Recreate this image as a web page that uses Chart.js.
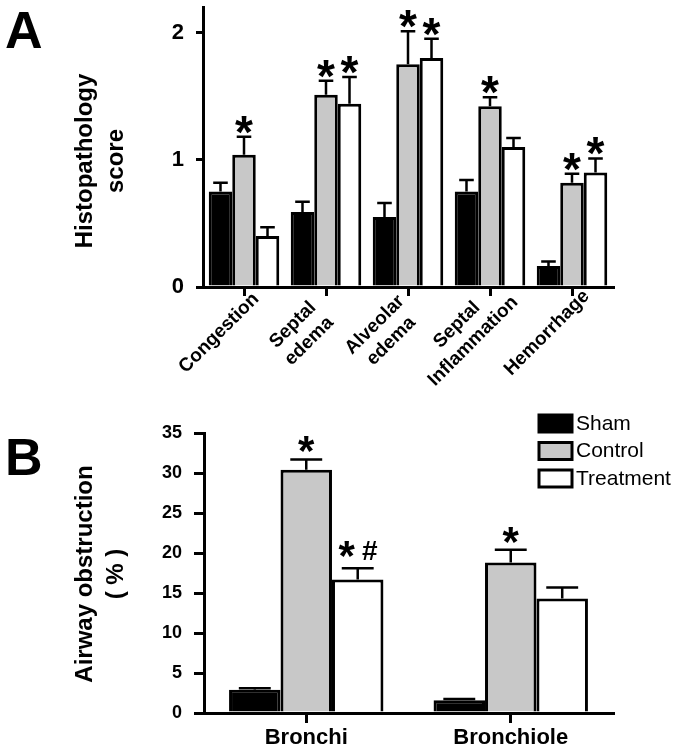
<!DOCTYPE html>
<html>
<head>
<meta charset="utf-8">
<script src="https://cdn.jsdelivr.net/npm/chart.js@4.4.0/dist/chart.umd.min.js"></script>
<style>
  body { margin: 0; background: #fff; }
  #wrap { position: relative; width: 680px; height: 750px; }
  canvas { position: absolute; left: 0; }
  #chartA { top: 0; }
  #chartB { top: 380px; }
</style>
</head>
<body>
<div id="wrap">
  <canvas id="chartA" width="680" height="396"></canvas>
  <canvas id="chartB" width="680" height="370"></canvas>
</div>
<script>
// Panel A - histopathology scores
const catsA = ['Congestion', ['Septal', 'edema'], ['Alveolar', 'edema'], ['Septal', 'Inflammation'], 'Hemorrhage'];
const shamA = [0.75, 0.59, 0.55, 0.75, 0.165];
const shamErrA = [0.07, 0.08, 0.11, 0.09, 0.035];
const controlA = [1.04, 1.51, 1.75, 1.42, 0.82];
const controlErrA = [0.14, 0.11, 0.26, 0.07, 0.07];
const treatA = [0.40, 1.44, 1.80, 1.10, 0.90];
const treatErrA = [0.07, 0.21, 0.15, 0.07, 0.11];
const controlMarksA = ['*', '*', '*', '*', '*'];
const treatMarksA = ['', '*', '*', '', '*'];
const ticksA = [0, 1, 2];

// Panel B - airway obstruction
const catsB = ['Bronchi', 'Bronchiole'];
const shamB = [2.9, 1.6];
const shamErrB = [0.2, 0.15];
const controlB = [30.4, 18.8];
const controlErrB = [1.3, 1.6];
const treatB = [16.7, 14.3];
const treatErrB = [1.4, 1.4];
const controlMarksB = ['*', '*'];
const treatMarksB = ['*#', ''];

const seriesNames = ['Sham', 'Control', 'Treatment'];
const fills = ['#000000', '#c8c8c8', '#ffffff'];
const FONT = "'Liberation Sans', Arial, sans-serif";

function drawCentered(ctx, txt, x, cy, font) {
    ctx.font = font;
    const m = ctx.measureText(txt);
    const base = cy + (m.actualBoundingBoxAscent - m.actualBoundingBoxDescent) / 2;
    ctx.fillText(txt, x, base);
}

// error bars (upper only) plus significance marks
function errPlugin(errs, marks, starFont, gap) {
    return {
        id: 'errbars',
        afterDatasetsDraw(chart) {
            const ctx = chart.ctx;
            const y = chart.scales.y;
            ctx.save();
            ctx.strokeStyle = '#000';
            ctx.fillStyle = '#000';
            ctx.lineWidth = 2.5;
            ctx.textAlign = 'center';
            chart.data.datasets.forEach((ds, i) => {
                chart.getDatasetMeta(i).data.forEach((bar, j) => {
                    const top = y.getPixelForValue(ds.data[j] + errs[i][j]);
                    const half = bar.width * 0.31;
                    ctx.beginPath();
                    ctx.moveTo(bar.x, bar.y);
                    ctx.lineTo(bar.x, top);
                    ctx.moveTo(bar.x - half, top);
                    ctx.lineTo(bar.x + half, top);
                    ctx.stroke();
                    const mk = marks[i] ? marks[i][j] : '';
                    if (mk === '*') {
                        drawCentered(ctx, '*', bar.x, top - gap, starFont);
                    } else if (mk === '*#') {
                        drawCentered(ctx, '*', bar.x - 11, top - gap - 4, starFont);
                        drawCentered(ctx, '#', bar.x + 12, top - gap - 3, 'bold 28px ' + FONT);
                    }
                });
            });
            ctx.restore();
        }
    };
}

// rotated, centre-aligned category labels for panel A
const rotLabelPlugin = {
    id: 'rotlabels',
    afterDraw(chart) {
        const ctx = chart.ctx;
        const x = chart.scales.x;
        const base = chart.chartArea.bottom;
        const lh = 23;
        ctx.save();
        ctx.fillStyle = '#000';
        ctx.font = 'bold 19px ' + FONT;
        ctx.textAlign = 'center';
        ctx.textBaseline = 'middle';
        chart.data.labels.forEach((lab, i) => {
            const lines = Array.isArray(lab) ? lab : [lab];
            const px = x.getPixelForTick(i);
            ctx.save();
            ctx.translate(px - 25, base + 46);
            ctx.rotate(-Math.PI / 4);
            lines.forEach((ln, k) => {
                ctx.fillText(ln, 0, (k - (lines.length - 1) / 2) * lh);
            });
            ctx.restore();
        });
        ctx.restore();
    }
};

function textPlugin(letter, letterBase, titleLines, titleY, legend) {
    return {
        id: 'texts',
        afterDraw(chart) {
            const ctx = chart.ctx;
            ctx.save();
            ctx.fillStyle = '#000';
            ctx.textAlign = 'left';
            ctx.textBaseline = 'alphabetic';
            ctx.font = 'bold 52px ' + FONT;
            ctx.fillText(letter, 5, letterBase);

            ctx.translate(0, titleY);
            ctx.rotate(-Math.PI / 2);
            ctx.textAlign = 'center';
            ctx.font = 'bold 24px ' + FONT;
            ctx.fillText(titleLines[0], 0, 92);
            ctx.fillText(titleLines[1], 0, 123);
            ctx.restore();

            if (legend) {
                ctx.save();
                ctx.lineWidth = 3;
                ctx.strokeStyle = '#000';
                seriesNames.forEach((name, i) => {
                    const top = 35 + i * 27.5;
                    ctx.fillStyle = fills[i];
                    ctx.fillRect(539, top, 33, 17);
                    ctx.strokeRect(539, top, 33, 17);
                    ctx.fillStyle = '#000';
                    ctx.textAlign = 'left';
                    ctx.textBaseline = 'middle';
                    ctx.font = '21px ' + FONT;
                    ctx.fillText(name, 576, top + 9);
                });
                ctx.restore();
            }
        }
    };
}

function makeDatasets(vals, catPct) {
    return vals.map((v, i) => ({
        label: seriesNames[i],
        data: v,
        backgroundColor: fills[i],
        borderColor: '#000',
        borderWidth: 3,
        borderSkipped: 'start',
        categoryPercentage: catPct,
        barPercentage: 1
    }));
}

function axisStyle(tickLen) {
    return {
        grid: { display: true, drawOnChartArea: false, drawTicks: true, tickLength: tickLen, color: '#000', lineWidth: 3, offset: false },
        border: { display: true, color: '#000', width: 3 }
    };
}

function fixY(w) {
    return s => { s.width = w; s.paddingTop = 0; s.paddingBottom = 0; };
}
function fixX(h) {
    return s => { s.height = h; s.paddingLeft = 0; s.paddingRight = 0; };
}

// Chart A
new Chart(document.getElementById('chartA'), {
    type: 'bar',
    data: { labels: catsA, datasets: makeDatasets([shamA, controlA, treatA], 0.86) },
    options: {
        responsive: false,
        animation: false,
        devicePixelRatio: 1,
        layout: { padding: { top: 7, right: 67, left: 0, bottom: 0 } },
        plugins: { legend: { display: false }, tooltip: { enabled: false } },
        scales: {
            x: {
                ...axisStyle(9),
                afterFit: fixX(396 - 287),
                ticks: { display: false }
            },
            y: {
                ...axisStyle(7),
                min: 0, max: 2.2,
                afterFit: fixY(203),
                afterBuildTicks: s => { s.ticks = ticksA.map(v => ({ value: v })); },
                ticks: { color: '#000', font: { family: FONT, size: 22, weight: 'bold' }, padding: 12 }
            }
        }
    },
    plugins: [
        errPlugin([shamErrA, controlErrA, treatErrA], [null, controlMarksA, treatMarksA], 'bold 46px ' + FONT, 12),
        rotLabelPlugin,
        textPlugin('A', 48, ['Histopathology', 'score'], 161, false)
    ]
});

// Chart B
new Chart(document.getElementById('chartB'), {
    type: 'bar',
    data: { labels: catsB, datasets: makeDatasets([shamB, controlB, treatB], 0.755) },
    options: {
        responsive: false,
        animation: false,
        devicePixelRatio: 1,
        layout: { padding: { top: 53, right: 67, left: 0, bottom: 0 } },
        plugins: { legend: { display: false }, tooltip: { enabled: false } },
        scales: {
            x: {
                ...axisStyle(10),
                afterFit: fixX(37),
                ticks: { color: '#000', font: { family: FONT, size: 22, weight: 'bold' }, maxRotation: 0, padding: 2 }
            },
            y: {
                ...axisStyle(10),
                min: 0, max: 35,
                afterFit: fixY(204),
                ticks: { color: '#000', stepSize: 5, font: { family: FONT, size: 18, weight: 'bold' }, padding: 12 }
            }
        }
    },
    plugins: [
        errPlugin([shamErrB, controlErrB, treatErrB], [null, controlMarksB, treatMarksB], 'bold 42px ' + FONT, 15),
        textPlugin('B', 95, ['Airway obstruction', '( % )'], 194, true)
    ]
});
</script>
</body>
</html>
